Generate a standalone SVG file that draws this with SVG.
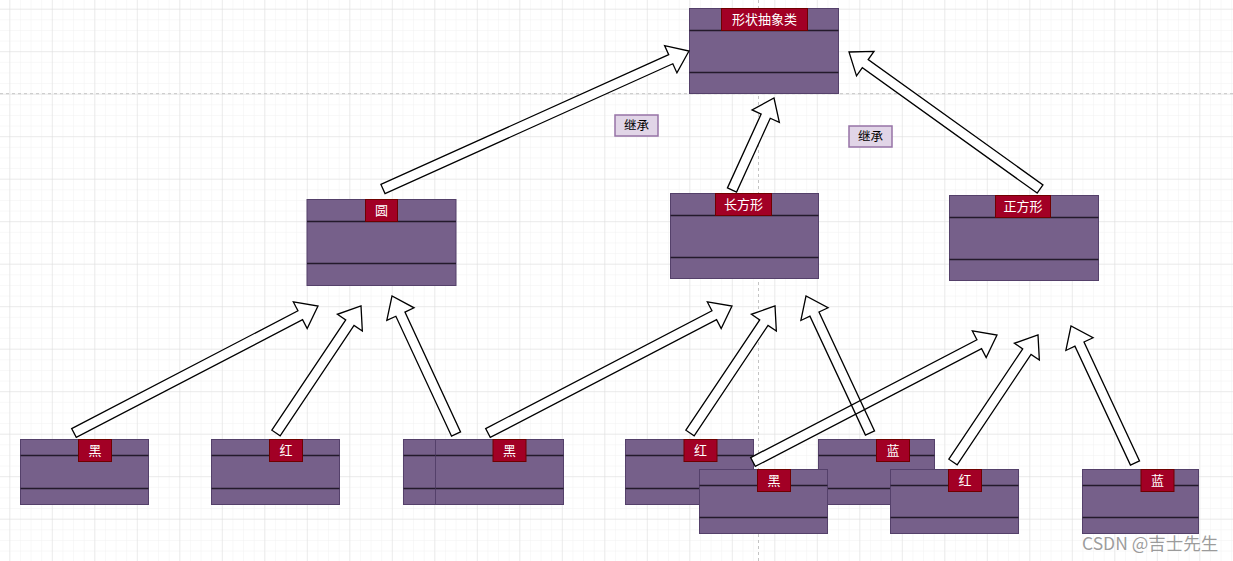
<svg xmlns="http://www.w3.org/2000/svg" width="1233" height="561" viewBox="0 0 1233 561">
<defs>
<pattern id="minor" patternUnits="userSpaceOnUse" x="9.3" y="8.7" width="10.625" height="10.625">
<path d="M0,0 H10.625 M0,0 V10.625" fill="none" stroke="#f1f1f1" stroke-width="1"/>
</pattern>
<pattern id="major" patternUnits="userSpaceOnUse" x="9.3" y="8.7" width="42.5" height="42.5">
<path d="M0,0 H42.5 M0,0 V42.5" fill="none" stroke="#dddddd" stroke-width="1"/>
</pattern>
</defs>
<style>
.b{fill:#76608a;stroke:#54406a;stroke-width:1}
.sep{stroke:#231a2b;stroke-width:1.5}
.t{fill:#a20025;stroke:#6f0000;stroke-width:1}
.tt{font-family:"Noto Sans CJK SC","Noto Sans",sans-serif;font-size:13px;fill:#ffffff;text-anchor:middle}
.lbl rect{fill:#e1d5e7;stroke:#9673a6;stroke-width:1.5}
.lbl text{font-family:"Noto Sans CJK SC","Noto Sans",sans-serif;font-size:12.5px;fill:#000;text-anchor:middle}
.a{fill:#ffffff;stroke:#000;stroke-width:1.3;stroke-linejoin:miter}
</style>
<rect width="1233" height="561" fill="#ffffff"/>
<rect width="1233" height="561" fill="url(#minor)"/>
<rect width="1233" height="561" fill="url(#major)"/>
<line x1="0" y1="93.7" x2="1233" y2="93.7" stroke="#c4c4c4" stroke-dasharray="3 3" stroke-width="1"/>
<line x1="758.5" y1="0" x2="758.5" y2="561" stroke="#c4c4c4" stroke-dasharray="3 3" stroke-width="1"/>

<g id="shape">
<rect class="b" x="689.5" y="8.5" width="149" height="85"/>
<line class="sep" x1="689.5" y1="30.5" x2="838.5" y2="30.5"/>
<line class="sep" x1="689.5" y1="72.5" x2="838.5" y2="72.5"/>
<rect class="t" x="721.5" y="8.5" width="86" height="22"/>
<text class="tt" x="764.5" y="24">形状抽象类</text>
</g>

<g id="circle">
<rect class="b" x="307" y="199.5" width="149" height="86"/>
<line class="sep" x1="307" y1="221.5" x2="456" y2="221.5"/>
<line class="sep" x1="307" y1="263.5" x2="456" y2="263.5"/>
<rect class="t" x="365.5" y="199.5" width="32" height="22"/>
<text class="tt" x="381.5" y="215">圆</text>
</g>

<g id="rectangle">
<rect class="b" x="670.5" y="193.5" width="148" height="85"/>
<line class="sep" x1="670.5" y1="215.5" x2="818.5" y2="215.5"/>
<line class="sep" x1="670.5" y1="257.5" x2="818.5" y2="257.5"/>
<rect class="t" x="715.5" y="193.5" width="56" height="22"/>
<text class="tt" x="743.5" y="209">长方形</text>
</g>

<g id="square">
<rect class="b" x="949.5" y="195.5" width="149" height="85"/>
<line class="sep" x1="949.5" y1="217.5" x2="1098.5" y2="217.5"/>
<line class="sep" x1="949.5" y1="259.5" x2="1098.5" y2="259.5"/>
<rect class="t" x="995.5" y="195.5" width="55" height="22"/>
<text class="tt" x="1023" y="211">正方形</text>
</g>

<g id="label1" class="lbl">
<rect x="615" y="115" width="43" height="21"/>
<text x="636.5" y="130">继承</text>
</g>
<g id="label2" class="lbl">
<rect x="849" y="126" width="43" height="21"/>
<text x="870.5" y="141">继承</text>
</g>

<g id="black1">
<rect class="b" x="20.5" y="439.5" width="128" height="65"/>
<line class="sep" x1="20.5" y1="455.5" x2="148.5" y2="455.5"/>
<line class="sep" x1="20.5" y1="488.5" x2="148.5" y2="488.5"/>
<rect class="t" x="78.5" y="439.5" width="33" height="22"/>
<text class="tt" x="95" y="455">黑</text>
</g>

<g id="red1">
<rect class="b" x="211.5" y="439.5" width="128" height="65"/>
<line class="sep" x1="211.5" y1="455.5" x2="339.5" y2="455.5"/>
<line class="sep" x1="211.5" y1="488.5" x2="339.5" y2="488.5"/>
<rect class="t" x="269.5" y="439.5" width="33" height="22"/>
<text class="tt" x="286" y="455">红</text>
</g>

<g id="hidden">
<rect class="b" x="403.5" y="439.5" width="128" height="65"/>
<line class="sep" x1="403.5" y1="455.5" x2="531.5" y2="455.5"/>
<line class="sep" x1="403.5" y1="488.5" x2="531.5" y2="488.5"/>
</g>

<g id="black2">
<rect class="b" x="435.5" y="439.5" width="128" height="65"/>
<line class="sep" x1="435.5" y1="455.5" x2="563.5" y2="455.5"/>
<line class="sep" x1="435.5" y1="488.5" x2="563.5" y2="488.5"/>
<rect class="t" x="493" y="439.5" width="33" height="22"/>
<text class="tt" x="509.5" y="455">黑</text>
</g>

<g id="red2">
<rect class="b" x="625.5" y="439.5" width="128" height="65"/>
<line class="sep" x1="625.5" y1="455.5" x2="753.5" y2="455.5"/>
<line class="sep" x1="625.5" y1="488.5" x2="753.5" y2="488.5"/>
<rect class="t" x="684" y="439.5" width="33" height="22"/>
<text class="tt" x="700.5" y="455">红</text>
</g>

<g id="blue1">
<rect class="b" x="818.5" y="439.5" width="116" height="65"/>
<line class="sep" x1="818.5" y1="455.5" x2="934.5" y2="455.5"/>
<line class="sep" x1="818.5" y1="488.5" x2="934.5" y2="488.5"/>
<rect class="t" x="876.5" y="439.5" width="33" height="22"/>
<text class="tt" x="893" y="455">蓝</text>
</g>

<g id="black3">
<rect class="b" x="699.5" y="469.5" width="128" height="64"/>
<line class="sep" x1="699.5" y1="485.5" x2="827.5" y2="485.5"/>
<line class="sep" x1="699.5" y1="517.5" x2="827.5" y2="517.5"/>
<rect class="t" x="757.5" y="469.5" width="33" height="22"/>
<text class="tt" x="774" y="485">黑</text>
</g>

<g id="red3">
<rect class="b" x="890.5" y="469.5" width="128" height="64"/>
<line class="sep" x1="890.5" y1="485.5" x2="1018.5" y2="485.5"/>
<line class="sep" x1="890.5" y1="517.5" x2="1018.5" y2="517.5"/>
<rect class="t" x="948.5" y="469.5" width="33" height="22"/>
<text class="tt" x="965" y="485">红</text>
</g>

<g id="blue2">
<rect class="b" x="1082.5" y="469.5" width="116" height="64"/>
<line class="sep" x1="1082.5" y1="485.5" x2="1198.5" y2="485.5"/>
<line class="sep" x1="1082.5" y1="517.5" x2="1198.5" y2="517.5"/>
<rect class="t" x="1141" y="469.5" width="33" height="22"/>
<text class="tt" x="1157.5" y="485">蓝</text>
</g>

<g id="connectors">
<path class="a" transform="translate(689,51) rotate(-24.27)" d="M-335.7,-5 H-20 V-15 L0,0 L-20,15 V5 H-335.7 Z"/>
<path class="a" transform="translate(774,98) rotate(-65.46)" d="M-101.1,-5 H-20 V-15 L0,0 L-20,15 V5 H-101.1 Z"/>
<path class="a" transform="translate(849,52) rotate(-144.35)" d="M-235.1,-5 H-20 V-15 L0,0 L-20,15 V5 H-235.1 Z"/>
<path class="a" transform="translate(318,306) rotate(-27.49)" d="M-275.1,-5 H-20 V-15 L0,0 L-20,15 V5 H-275.1 Z"/>
<path class="a" transform="translate(361,306) rotate(-56.2)" d="M-152.8,-5 H-20 V-15 L0,0 L-20,15 V5 H-152.8 Z"/>
<path class="a" transform="translate(392,296) rotate(-114.89)" d="M-152.1,-5 H-20 V-15 L0,0 L-20,15 V5 H-152.1 Z"/>
<path class="a" transform="translate(732,306) rotate(-27.49)" d="M-275.1,-5 H-20 V-15 L0,0 L-20,15 V5 H-275.1 Z"/>
<path class="a" transform="translate(775,306) rotate(-56.2)" d="M-152.8,-5 H-20 V-15 L0,0 L-20,15 V5 H-152.8 Z"/>
<path class="a" transform="translate(997,335) rotate(-27.49)" d="M-275.1,-5 H-20 V-15 L0,0 L-20,15 V5 H-275.1 Z"/>
<path class="a" transform="translate(806,296) rotate(-115.04)" d="M-151.2,-5 H-20 V-15 L0,0 L-20,15 V5 H-151.2 Z" fill-opacity="0"/>
<path class="a" transform="translate(1038,335) rotate(-56.2)" d="M-152.8,-5 H-20 V-15 L0,0 L-20,15 V5 H-152.8 Z"/>
<path class="a" transform="translate(1071,326) rotate(-115.04)" d="M-151.2,-5 H-20 V-15 L0,0 L-20,15 V5 H-151.2 Z"/>
</g>

<text x="1082" y="550" font-family="'Noto Sans CJK SC','Noto Sans',sans-serif" font-size="17.5" fill="#8a8a8a" fill-opacity="0.85">CSDN @吉士先生</text>
</svg>
